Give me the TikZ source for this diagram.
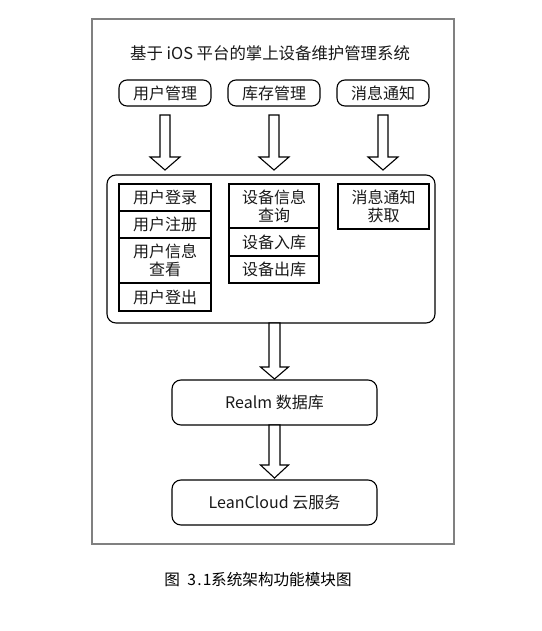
\documentclass[tikz,border=0pt]{standalone}
\usepackage{fontspec}
\setmainfont{Noto Sans CJK SC}
\usetikzlibrary{calc}
\tikzset{
  base/.style={draw=black, line width=1.1pt, inner sep=0pt, outer sep=0pt, align=center, font=\fontsize{16}{18}\selectfont, text=black!90},
  topbox/.style={base, rounded corners=8pt, minimum width=92pt, minimum height=26pt},
  bigbox/.style={draw=black, line width=1.1pt, rounded corners=9pt, minimum width=328pt, minimum height=148pt, inner sep=0pt, outer sep=0pt},
  cell/.style={base, minimum width=#1},
  cell/.default=92pt,
  layer/.style={base, rounded corners=9pt, minimum width=205pt, minimum height=45pt},
  blockarrow/.style={draw=black, line width=1.1pt, fill=white, line join=miter},
  frame/.style={draw=black!50, line width=2pt}
}
% #1 node giving x, #2 source node, #3 target node, #4 start gap, #5 end gap, #6 half head width, #7 head height, #8 half shaft
\newcommand\barrow[8]{%
  \draw[blockarrow] let \p0=(#1.center), \p1=(#2.south), \p2=(#3.north) in
   (\x0-#8,\y1-#4) -- (\x0-#8,\y2+#5+#7) -- (\x0-#6,\y2+#5+#7) -- (\x0,\y2+#5)
   -- (\x0+#6,\y2+#5+#7) -- (\x0+#8,\y2+#5+#7) -- (\x0+#8,\y1-#4) -- cycle;}
\newcommand\hw[1]{\makebox[7.8pt]{#1}}
\begin{document}
\begin{tikzpicture}[x=1pt,y=-1pt]
\useasboundingbox[fill=white] (0,0) rectangle (541,631);
\draw[frame] (92,19) rectangle (453.5,544);
\node[font=\fontsize{16.4}{19}\selectfont, text=black!90] (title) at (270,53) {基于 iOS 平台的掌上设备维护管理系统};
\node[topbox] (um) at (165,93) {用户管理};
\node[topbox] (kc) at (274,93) {库存管理};
\node[topbox] (xx) at (383,93) {消息通知};
\node[bigbox] (big) at (271,249) {};
% left column
\node[cell, minimum height=27pt] (dl) at (165,197.5) {用户登录};
\node[cell, minimum height=27pt] (zc) at (165,224.5) {用户注册};
\node[cell, minimum height=45pt] (ck) at (165,260.5) {用户信息\\查看};
\node[cell, minimum height=28pt] (dc) at (165,297) {用户登出};
% middle column
\node[cell=90pt, minimum height=44pt] (cx) at (274,206) {设备信息\\查询};
\node[cell=90pt, minimum height=28pt] (rk) at (274,242) {设备入库};
\node[cell=90pt, minimum height=27pt] (sk) at (274,269.5) {设备出库};
% right column
\node[cell=91pt, minimum height=45pt] (hq) at (383.5,206.5) {消息通知\\获取};
% layers
\node[layer] (realm) at (274.5,402.5) {Realm 数据库};
\node[layer] (lean) at (274.5,502.5) {LeanCloud 云服务};
% block arrows
\barrow{um}{um}{big}{9pt}{5pt}{15pt}{13pt}{5pt}
\barrow{kc}{kc}{big}{9pt}{5pt}{15pt}{13pt}{5pt}
\barrow{xx}{xx}{big}{9pt}{5pt}{15pt}{13pt}{5pt}
\barrow{realm}{big}{realm}{0pt}{1pt}{14pt}{12pt}{5.5pt}
\barrow{lean}{realm}{lean}{0pt}{2pt}{14pt}{13pt}{5.5pt}
\node[font=\fontsize{15.6}{18}\selectfont, text=black] (cap) at (258,580) {图\hw{}\hw{3}\hw{.}\hw{1}系统架构功能模块图};
\end{tikzpicture}
\end{document}
